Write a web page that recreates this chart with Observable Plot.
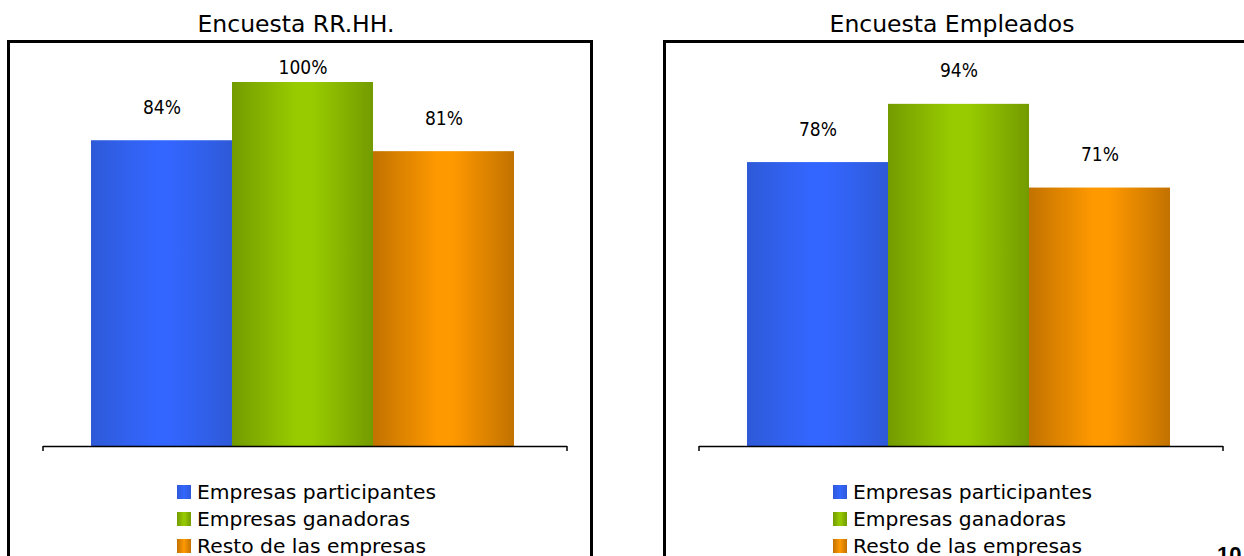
<!DOCTYPE html>
<html>
<head>
<meta charset="utf-8">
<script src="https://cdn.jsdelivr.net/npm/d3@7"></script>
<script src="https://cdn.jsdelivr.net/npm/@observablehq/plot@0.6"></script>
<style>
  html, body { margin: 0; padding: 0; background: #fff; }
  body { width: 1244px; height: 556px; overflow: hidden; position: relative;
         font-family: "DejaVu Sans", sans-serif; color: #000; }
  .panel { position: absolute; top: 0; width: 586px; height: 556px; }
  .title { position: absolute; top: 10px; left: -4px; width: 586px; text-align: center;
           font-size: 23.5px; line-height: 28px; }
  .box { position: absolute; top: 40px; left: 0; width: 580px; height: 560px;
         border: 3px solid #000; }
  .box svg { position: absolute; left: 0; top: 0; }
  .legend { position: absolute; top: 436px; font-size: 20.3px; line-height: 27px; }
  .legend .row { display: flex; align-items: center; height: 27px; white-space: nowrap; }
  .legend .sw { width: 14px; height: 14px; margin-right: 6px; margin-top: -2px; flex: none; }
  .pagenum { position: absolute; left: 1217px; top: 542px; font: bold 22px "Liberation Sans", Arial, sans-serif; }
</style>
</head>
<body>
<script>
// ---- data ----
const categories = ["Empresas participantes", "Empresas ganadoras", "Resto de las empresas"];
const panelTitles = ["Encuesta RR.HH.", "Encuesta Empleados"];
const valuesRRHH = [84, 100, 81];
const valuesEmpleados = [78, 94, 71];
const edgeColors = ["#2E5AD8", "#739B00", "#C27200"];
const centerColors = ["#3366FF", "#99CC00", "#FF9900"];

function makePanel(title, values, left, idPrefix) {
  const panel = document.createElement("div");
  panel.className = "panel";
  panel.style.left = left + "px";
  document.body.appendChild(panel);

  const t = document.createElement("div");
  t.className = "title";
  t.textContent = title;
  panel.appendChild(t);

  const box = document.createElement("div");
  box.className = "box";
  panel.appendChild(box);

  const data = categories.map((c, i) => ({category: c, value: values[i], i}));
  const gradId = i => `${idPrefix}-g${i}`;

  const defs = () => {
    const ns = "http://www.w3.org/2000/svg";
    const d = document.createElementNS(ns, "defs");
    categories.forEach((c, i) => {
      const g = document.createElementNS(ns, "linearGradient");
      g.setAttribute("id", gradId(i));
      g.setAttribute("x1", "0"); g.setAttribute("x2", "1");
      g.setAttribute("y1", "0"); g.setAttribute("y2", "0");
      [[0, edgeColors[i]], [0.46, centerColors[i]], [0.56, centerColors[i]], [1, edgeColors[i]]].forEach(([o, col]) => {
        const s = document.createElementNS(ns, "stop");
        s.setAttribute("offset", o);
        s.setAttribute("stop-color", col);
        g.appendChild(s);
      });
      d.appendChild(g);
    });
    return d;
  };

  const endTicks = (index, scales, vals, dims) => {
    const ns = "http://www.w3.org/2000/svg";
    const g = document.createElementNS(ns, "g");
    const y0 = scales.y(0);
    [dims.marginLeft, dims.width - dims.marginRight].forEach(x => {
      const l = document.createElementNS(ns, "line");
      l.setAttribute("x1", x); l.setAttribute("x2", x);
      l.setAttribute("y1", y0); l.setAttribute("y2", y0 + 5);
      l.setAttribute("stroke", "#000");
      l.setAttribute("stroke-width", 1.5);
      g.appendChild(l);
    });
    return g;
  };

  const labelCap = 95; // data labels are kept inside the plot area (as the reference does)

  const svg = Plot.plot({
    width: 580,
    height: 420,
    marginLeft: 33,
    marginRight: 23,
    marginTop: 39,
    marginBottom: 17,
    style: {fontFamily: '"DejaVu Sans Condensed", "DejaVu Sans", sans-serif', background: "transparent"},
    x: {domain: categories, type: "band", paddingInner: 0, paddingOuter: 0.354, align: 0.48, axis: null},
    y: {domain: [0, 100], axis: null},
    color: {type: "identity"},
    marks: [
      defs,
      Plot.barY(data, {x: "category", y: "value", fill: d => `url(#${gradId(d.i)})`, inset: 0}),
      Plot.ruleY([0], {stroke: "#000", strokeWidth: 1.5}),
      endTicks,
      Plot.text(data, {x: "category", y: d => Math.min(d.value, labelCap), dy: -33,
        text: d => d.value + "%", fontSize: 19, fill: "#000"})
    ]
  });
  box.appendChild(svg);

  const legend = document.createElement("div");
  legend.className = "legend";
  legend.style.left = "167px";
  categories.forEach((c, i) => {
    const row = document.createElement("div");
    row.className = "row";
    const sw = document.createElement("span");
    sw.className = "sw";
    sw.style.background = `linear-gradient(to right, ${edgeColors[i]}, ${centerColors[i]} 50%, ${edgeColors[i]})`;
    const tx = document.createElement("span");
    tx.textContent = c;
    row.appendChild(sw);
    row.appendChild(tx);
    legend.appendChild(row);
  });
  box.appendChild(legend);
}

makePanel(panelTitles[0], valuesRRHH, 7, "p1");
makePanel(panelTitles[1], valuesEmpleados, 663, "p2");

const pn = document.createElement("div");
pn.className = "pagenum";
pn.textContent = "10";
document.body.appendChild(pn);
</script>
</body>
</html>
